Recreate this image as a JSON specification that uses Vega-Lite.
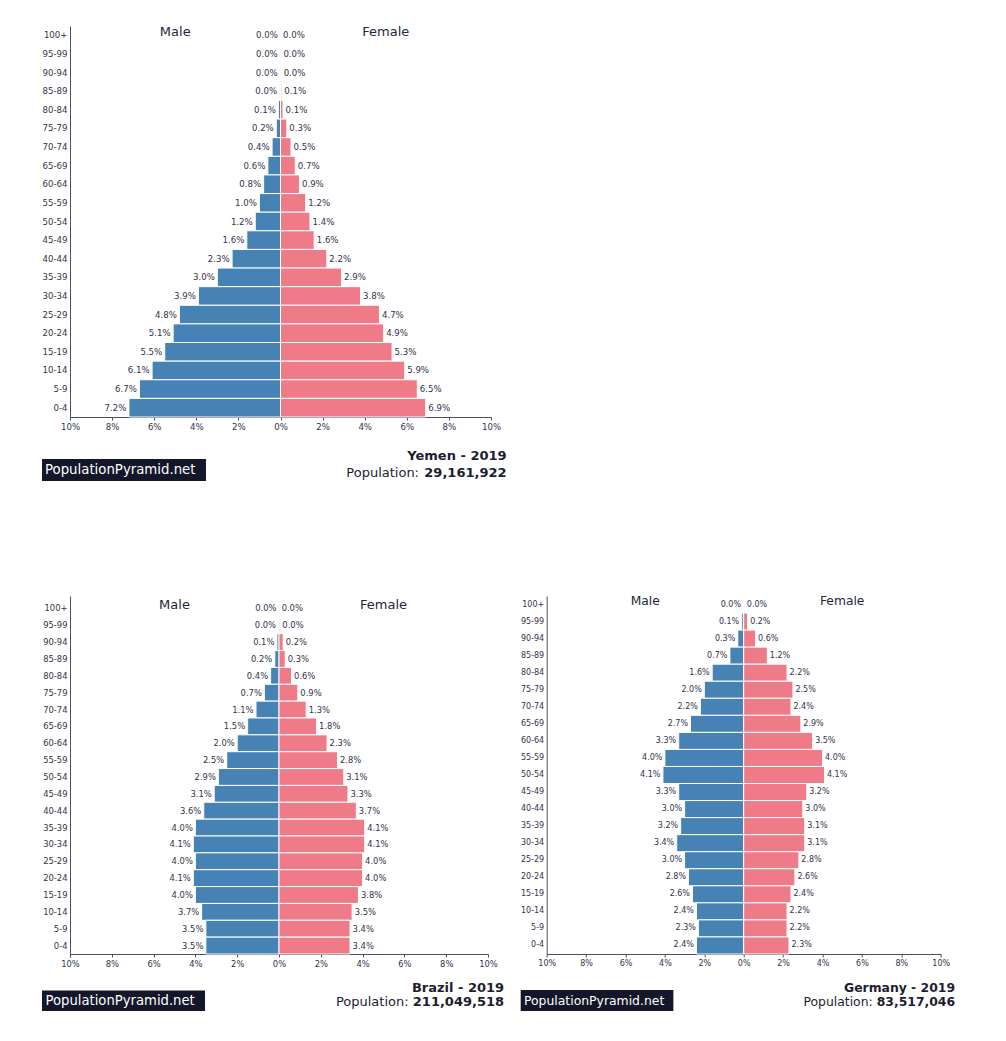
{
  "$schema": "https://vega.github.io/schema/vega-lite/v6.json",
  "padding": {"left": 41, "top": 25, "right": 10, "bottom": 10},
  "background": "#ffffff",
  "bounds": "flush",
  "columns": 2,
  "spacing": {"row": 28, "column": 55.7},
  "datasets": {
    "yemen": [
      {"age": "100+", "Male": 0.00002, "Female": 0.00003},
      {"age": "95-99", "Male": 0.0001, "Female": 0.0002},
      {"age": "90-94", "Male": 0.0002, "Female": 0.0003},
      {"age": "85-89", "Male": 0.0004, "Female": 0.0006},
      {"age": "80-84", "Male": 0.001, "Female": 0.0012},
      {"age": "75-79", "Male": 0.002, "Female": 0.003},
      {"age": "70-74", "Male": 0.004, "Female": 0.005},
      {"age": "65-69", "Male": 0.006, "Female": 0.007},
      {"age": "60-64", "Male": 0.008, "Female": 0.009},
      {"age": "55-59", "Male": 0.010, "Female": 0.012},
      {"age": "50-54", "Male": 0.012, "Female": 0.014},
      {"age": "45-49", "Male": 0.016, "Female": 0.016},
      {"age": "40-44", "Male": 0.023, "Female": 0.022},
      {"age": "35-39", "Male": 0.030, "Female": 0.029},
      {"age": "30-34", "Male": 0.039, "Female": 0.038},
      {"age": "25-29", "Male": 0.048, "Female": 0.047},
      {"age": "20-24", "Male": 0.051, "Female": 0.049},
      {"age": "15-19", "Male": 0.055, "Female": 0.053},
      {"age": "10-14", "Male": 0.061, "Female": 0.059},
      {"age": "5-9", "Male": 0.067, "Female": 0.065},
      {"age": "0-4", "Male": 0.072, "Female": 0.069}
    ],
    "brazil": [
      {"age": "100+", "Male": 0.00003, "Female": 0.00006},
      {"age": "95-99", "Male": 0.0002, "Female": 0.0004},
      {"age": "90-94", "Male": 0.001, "Female": 0.002},
      {"age": "85-89", "Male": 0.002, "Female": 0.003},
      {"age": "80-84", "Male": 0.004, "Female": 0.006},
      {"age": "75-79", "Male": 0.007, "Female": 0.009},
      {"age": "70-74", "Male": 0.011, "Female": 0.013},
      {"age": "65-69", "Male": 0.015, "Female": 0.018},
      {"age": "60-64", "Male": 0.020, "Female": 0.023},
      {"age": "55-59", "Male": 0.025, "Female": 0.028},
      {"age": "50-54", "Male": 0.029, "Female": 0.031},
      {"age": "45-49", "Male": 0.031, "Female": 0.033},
      {"age": "40-44", "Male": 0.036, "Female": 0.037},
      {"age": "35-39", "Male": 0.040, "Female": 0.041},
      {"age": "30-34", "Male": 0.041, "Female": 0.041},
      {"age": "25-29", "Male": 0.040, "Female": 0.040},
      {"age": "20-24", "Male": 0.041, "Female": 0.040},
      {"age": "15-19", "Male": 0.040, "Female": 0.038},
      {"age": "10-14", "Male": 0.037, "Female": 0.035},
      {"age": "5-9", "Male": 0.035, "Female": 0.034},
      {"age": "0-4", "Male": 0.035, "Female": 0.034}
    ],
    "germany": [
      {"age": "100+", "Male": 0.0001, "Female": 0.0003},
      {"age": "95-99", "Male": 0.001, "Female": 0.002},
      {"age": "90-94", "Male": 0.003, "Female": 0.006},
      {"age": "85-89", "Male": 0.007, "Female": 0.012},
      {"age": "80-84", "Male": 0.016, "Female": 0.022},
      {"age": "75-79", "Male": 0.020, "Female": 0.025},
      {"age": "70-74", "Male": 0.022, "Female": 0.024},
      {"age": "65-69", "Male": 0.027, "Female": 0.029},
      {"age": "60-64", "Male": 0.033, "Female": 0.035},
      {"age": "55-59", "Male": 0.040, "Female": 0.040},
      {"age": "50-54", "Male": 0.041, "Female": 0.041},
      {"age": "45-49", "Male": 0.033, "Female": 0.032},
      {"age": "40-44", "Male": 0.030, "Female": 0.030},
      {"age": "35-39", "Male": 0.032, "Female": 0.031},
      {"age": "30-34", "Male": 0.034, "Female": 0.031},
      {"age": "25-29", "Male": 0.030, "Female": 0.028},
      {"age": "20-24", "Male": 0.028, "Female": 0.026},
      {"age": "15-19", "Male": 0.026, "Female": 0.024},
      {"age": "10-14", "Male": 0.024, "Female": 0.022},
      {"age": "5-9", "Male": 0.023, "Female": 0.022},
      {"age": "0-4", "Male": 0.024, "Female": 0.023}
    ]
  },
  "concat": [
    {
      "width": 421, "height": 391,
      "data": {"name": "yemen"},
      "encoding": {"y": {"field": "age", "type": "ordinal",
        "scale": {"domain": ["100+","95-99","90-94","85-89","80-84","75-79","70-74","65-69","60-64","55-59","50-54","45-49","40-44","35-39","30-34","25-29","20-24","15-19","10-14","5-9","0-4"], "paddingInner": 0, "paddingOuter": 0},
        "axis": {"title": null, "ticks": false, "tickSize": 0, "labelPadding": 3, "labelFontSize": 8.6}}},
      "layer": [
        {"encoding": {"x": {"field": "Male", "type": "quantitative", "scale": {"domain": [-0.1, 0.1], "reverse": true, "nice": false}, "axis": null}},
         "layer": [
           {"mark": {"type": "bar", "color": "#4682b4", "stroke": "#ffffff", "strokeWidth": 1}},
           {"mark": {"type": "text", "align": "right", "baseline": "middle", "dx": -2.5, "fontSize": 8.6, "color": "#33334a"},
            "encoding": {"text": {"field": "Male", "type": "quantitative", "format": ".1%"}}}
         ]},
        {"encoding": {"x": {"field": "Female", "type": "quantitative", "scale": {"domain": [-0.1, 0.1], "nice": false},
           "axis": {"orient": "bottom", "title": null, "values": [-0.1,-0.08,-0.06,-0.04,-0.02,0,0.02,0.04,0.06,0.08,0.1], "labelExpr": "format(abs(datum.value), '.0%')", "tickSize": 3, "labelPadding": 2, "labelFontSize": 8.6, "labelFlush": false, "labelOverlap": false, "labelBound": false}}},
         "layer": [
           {"mark": {"type": "bar", "color": "#ef7b89", "stroke": "#ffffff", "strokeWidth": 1}},
           {"mark": {"type": "text", "align": "left", "baseline": "middle", "dx": 2.5, "fontSize": 8.6, "color": "#33334a"},
            "encoding": {"text": {"field": "Female", "type": "quantitative", "format": ".1%"}}}
         ]},
        {"data": {"values": [{"label": "Male"}]},
         "mark": {"type": "text", "fontSize": 13, "baseline": "middle", "dy": -3.7, "color": "#26263a"},
         "encoding": {"x": {"datum": -0.05, "type": "quantitative", "scale": {"domain": [-0.1, 0.1], "nice": false}, "axis": null}, "y": {"datum": "100+"}, "text": {"field": "label"}}},
        {"data": {"values": [{"label": "Female"}]},
         "mark": {"type": "text", "fontSize": 13, "baseline": "middle", "dy": -3.7, "color": "#26263a"},
         "encoding": {"x": {"datum": 0.05, "type": "quantitative", "scale": {"domain": [-0.1, 0.1], "nice": false}, "axis": null}, "y": {"datum": "100+"}, "text": {"field": "label"}}}
      ],
      "resolve": {"scale": {"x": "independent"}, "axis": {"x": "independent"}}
    },
    {"width": 10, "height": 10, "data": {"values": []}, "mark": "point"},
    {
      "width": 421, "height": 123,
      "data": {"values": [{"title": "Yemen - 2019", "pop": 29161922}]},
      "layer": [
        {"mark": {"type": "rect", "color": "#141729"},
         "encoding": {"x": {"datum": -0.1133, "type": "quantitative", "scale": {"domain": [-0.1, 0.1], "nice": false, "zero": false}, "axis": null}, "x2": {"datum": -0.0354},
                      "y": {"datum": 14, "type": "quantitative", "scale": {"domain": [0, 123], "reverse": true, "nice": false, "zero": false}, "axis": null}, "y2": {"datum": 36}}},
        {"mark": {"type": "text", "text": "PopulationPyramid.net", "align": "left", "baseline": "middle", "dx": 3, "fontSize": 13.3, "color": "#ffffff"},
         "encoding": {"x": {"datum": -0.1133, "type": "quantitative"}, "y": {"datum": 25, "type": "quantitative"}}},
        {"mark": {"type": "text", "align": "right", "baseline": "middle", "fontSize": 13, "fontWeight": "bold", "color": "#1d1d30"},
         "encoding": {"x": {"datum": 0.1074, "type": "quantitative"}, "y": {"datum": 10.5, "type": "quantitative"}, "text": {"field": "title"}}},
        {"mark": {"type": "text", "align": "right", "baseline": "middle", "fontSize": 13, "fontWeight": "bold", "color": "#1d1d30"},
         "encoding": {"x": {"datum": 0.1074, "type": "quantitative"}, "y": {"datum": 27.5, "type": "quantitative"}, "text": {"field": "pop", "type": "quantitative", "format": ",d"}}},
        {"mark": {"type": "text", "text": "Population:", "align": "right", "baseline": "middle", "fontSize": 13, "color": "#1d1d30"},
         "encoding": {"x": {"datum": 0.0658, "type": "quantitative"}, "y": {"datum": 27.5, "type": "quantitative"}}}
      ]
    },
    {"width": 10, "height": 10, "data": {"values": []}, "mark": "point"},
    {
      "width": 418, "height": 358,
      "data": {"name": "brazil"},
      "encoding": {"y": {"field": "age", "type": "ordinal",
        "scale": {"domain": ["100+","95-99","90-94","85-89","80-84","75-79","70-74","65-69","60-64","55-59","50-54","45-49","40-44","35-39","30-34","25-29","20-24","15-19","10-14","5-9","0-4"], "paddingInner": 0, "paddingOuter": 0.1186, "align": 1},
        "axis": {"title": null, "ticks": false, "tickSize": 0, "labelPadding": 3, "labelFontSize": 8.4}}},
      "layer": [
        {"encoding": {"x": {"field": "Male", "type": "quantitative", "scale": {"domain": [-0.1, 0.1], "reverse": true, "nice": false}, "axis": null}},
         "layer": [
           {"mark": {"type": "bar", "color": "#4682b4", "stroke": "#ffffff", "strokeWidth": 1}},
           {"mark": {"type": "text", "align": "right", "baseline": "middle", "dx": -2.5, "fontSize": 8.4, "color": "#33334a"},
            "encoding": {"text": {"field": "Male", "type": "quantitative", "format": ".1%"}}}
         ]},
        {"encoding": {"x": {"field": "Female", "type": "quantitative", "scale": {"domain": [-0.1, 0.1], "nice": false},
           "axis": {"orient": "bottom", "title": null, "values": [-0.1,-0.08,-0.06,-0.04,-0.02,0,0.02,0.04,0.06,0.08,0.1], "labelExpr": "format(abs(datum.value), '.0%')", "tickSize": 3, "labelPadding": 2, "labelFontSize": 8.4, "labelFlush": false, "labelOverlap": false, "labelBound": false}}},
         "layer": [
           {"mark": {"type": "bar", "color": "#ef7b89", "stroke": "#ffffff", "strokeWidth": 1}},
           {"mark": {"type": "text", "align": "left", "baseline": "middle", "dx": 2.5, "fontSize": 8.4, "color": "#33334a"},
            "encoding": {"text": {"field": "Female", "type": "quantitative", "format": ".1%"}}}
         ]},
        {"data": {"values": [{"label": "Male"}]},
         "mark": {"type": "text", "fontSize": 13, "baseline": "middle", "dy": -3.5, "color": "#26263a"},
         "encoding": {"x": {"datum": -0.05, "type": "quantitative", "scale": {"domain": [-0.1, 0.1], "nice": false}, "axis": null}, "y": {"datum": "100+"}, "text": {"field": "label"}}},
        {"data": {"values": [{"label": "Female"}]},
         "mark": {"type": "text", "fontSize": 13, "baseline": "middle", "dy": -3.5, "color": "#26263a"},
         "encoding": {"x": {"datum": 0.05, "type": "quantitative", "scale": {"domain": [-0.1, 0.1], "nice": false}, "axis": null}, "y": {"datum": "100+"}, "text": {"field": "label"}}}
      ],
      "resolve": {"scale": {"x": "independent"}, "axis": {"x": "independent"}}
    },
    {
      "width": 394, "height": 358,
      "data": {"name": "germany"},
      "encoding": {"y": {"field": "age", "type": "ordinal",
        "scale": {"domain": ["100+","95-99","90-94","85-89","80-84","75-79","70-74","65-69","60-64","55-59","50-54","45-49","40-44","35-39","30-34","25-29","20-24","15-19","10-14","5-9","0-4"], "paddingInner": 0, "paddingOuter": 0},
        "axis": {"title": null, "ticks": false, "tickSize": 0, "labelPadding": 3, "labelFontSize": 8}}},
      "layer": [
        {"encoding": {"x": {"field": "Male", "type": "quantitative", "scale": {"domain": [-0.1, 0.1], "reverse": true, "nice": false}, "axis": null}},
         "layer": [
           {"mark": {"type": "bar", "color": "#4682b4", "stroke": "#ffffff", "strokeWidth": 1}},
           {"mark": {"type": "text", "align": "right", "baseline": "middle", "dx": -2.5, "fontSize": 8, "color": "#33334a"},
            "encoding": {"text": {"field": "Male", "type": "quantitative", "format": ".1%"}}}
         ]},
        {"encoding": {"x": {"field": "Female", "type": "quantitative", "scale": {"domain": [-0.1, 0.1], "nice": false},
           "axis": {"orient": "bottom", "title": null, "values": [-0.1,-0.08,-0.06,-0.04,-0.02,0,0.02,0.04,0.06,0.08,0.1], "labelExpr": "format(abs(datum.value), '.0%')", "tickSize": 3, "labelPadding": 2, "labelFontSize": 8, "labelFlush": false, "labelOverlap": false, "labelBound": false}}},
         "layer": [
           {"mark": {"type": "bar", "color": "#ef7b89", "stroke": "#ffffff", "strokeWidth": 1}},
           {"mark": {"type": "text", "align": "left", "baseline": "middle", "dx": 2.5, "fontSize": 8, "color": "#33334a"},
            "encoding": {"text": {"field": "Female", "type": "quantitative", "format": ".1%"}}}
         ]},
        {"data": {"values": [{"label": "Male"}]},
         "mark": {"type": "text", "fontSize": 12.3, "baseline": "middle", "dy": -3.5, "color": "#26263a"},
         "encoding": {"x": {"datum": -0.05, "type": "quantitative", "scale": {"domain": [-0.1, 0.1], "nice": false}, "axis": null}, "y": {"datum": "100+"}, "text": {"field": "label"}}},
        {"data": {"values": [{"label": "Female"}]},
         "mark": {"type": "text", "fontSize": 12.3, "baseline": "middle", "dy": -3.5, "color": "#26263a"},
         "encoding": {"x": {"datum": 0.05, "type": "quantitative", "scale": {"domain": [-0.1, 0.1], "nice": false}, "axis": null}, "y": {"datum": "100+"}, "text": {"field": "label"}}}
      ],
      "resolve": {"scale": {"x": "independent"}, "axis": {"x": "independent"}}
    },
    {
      "width": 418, "height": 40,
      "data": {"values": [{"title": "Brazil - 2019", "pop": 211049518}]},
      "layer": [
        {"mark": {"type": "rect", "color": "#141729"},
         "encoding": {"x": {"datum": -0.1134, "type": "quantitative", "scale": {"domain": [-0.1, 0.1], "nice": false, "zero": false}, "axis": null}, "x2": {"datum": -0.0354},
                      "y": {"datum": 8.5, "type": "quantitative", "scale": {"domain": [0, 40], "reverse": true, "nice": false, "zero": false}, "axis": null}, "y2": {"datum": 29}}},
        {"mark": {"type": "text", "text": "PopulationPyramid.net", "align": "left", "baseline": "middle", "dx": 3.5, "fontSize": 13.2, "color": "#ffffff"},
         "encoding": {"x": {"datum": -0.1134, "type": "quantitative"}, "y": {"datum": 19, "type": "quantitative"}}},
        {"mark": {"type": "text", "align": "right", "baseline": "middle", "fontSize": 13, "fontWeight": "bold", "color": "#1d1d30"},
         "encoding": {"x": {"datum": 0.1077, "type": "quantitative"}, "y": {"datum": 5.5, "type": "quantitative"}, "text": {"field": "title"}}},
        {"mark": {"type": "text", "align": "right", "baseline": "middle", "fontSize": 13, "fontWeight": "bold", "color": "#1d1d30"},
         "encoding": {"x": {"datum": 0.1077, "type": "quantitative"}, "y": {"datum": 19.5, "type": "quantitative"}, "text": {"field": "pop", "type": "quantitative", "format": ",d"}}},
        {"mark": {"type": "text", "text": "Population:", "align": "right", "baseline": "middle", "fontSize": 13, "color": "#1d1d30"},
         "encoding": {"x": {"datum": 0.062, "type": "quantitative"}, "y": {"datum": 19.5, "type": "quantitative"}}}
      ]
    },
    {
      "width": 394, "height": 40,
      "data": {"values": [{"title": "Germany - 2019", "pop": 83517046}]},
      "layer": [
        {"mark": {"type": "rect", "color": "#141729"},
         "encoding": {"x": {"datum": -0.1132, "type": "quantitative", "scale": {"domain": [-0.1, 0.1], "nice": false, "zero": false}, "axis": null}, "x2": {"datum": -0.0357},
                      "y": {"datum": 8, "type": "quantitative", "scale": {"domain": [0, 40], "reverse": true, "nice": false, "zero": false}, "axis": null}, "y2": {"datum": 29}}},
        {"mark": {"type": "text", "text": "PopulationPyramid.net", "align": "left", "baseline": "middle", "dx": 3.3, "fontSize": 12.4, "color": "#ffffff"},
         "encoding": {"x": {"datum": -0.1132, "type": "quantitative"}, "y": {"datum": 19, "type": "quantitative"}}},
        {"mark": {"type": "text", "align": "right", "baseline": "middle", "fontSize": 12.4, "fontWeight": "bold", "color": "#1d1d30"},
         "encoding": {"x": {"datum": 0.1073, "type": "quantitative"}, "y": {"datum": 5.5, "type": "quantitative"}, "text": {"field": "title"}}},
        {"mark": {"type": "text", "align": "right", "baseline": "middle", "fontSize": 12.4, "fontWeight": "bold", "color": "#1d1d30"},
         "encoding": {"x": {"datum": 0.1073, "type": "quantitative"}, "y": {"datum": 19.5, "type": "quantitative"}, "text": {"field": "pop", "type": "quantitative", "format": ",d"}}},
        {"mark": {"type": "text", "text": "Population:", "align": "right", "baseline": "middle", "fontSize": 12.4, "color": "#1d1d30"},
         "encoding": {"x": {"datum": 0.0655, "type": "quantitative"}, "y": {"datum": 19.5, "type": "quantitative"}}}
      ]
    }
  ],
  "config": {
    "view": {"stroke": null},
    "font": "DejaVu Sans",
    "text": {"font": "DejaVu Sans"},
    "axis": {"labelFont": "DejaVu Sans", "labelColor": "#33334a", "domainColor": "#4d4f60", "tickColor": "#4d4f60", "grid": false, "domainWidth": 1}
  }
}
